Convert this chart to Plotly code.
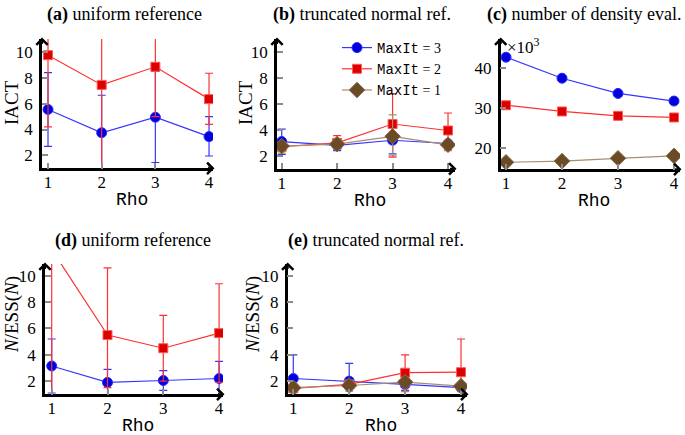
import plotly.graph_objects as go

W, H = 685, 435

rho = [1, 2, 3, 4]
labels = ["MaxIt = 3", "MaxIt = 2", "MaxIt = 1"]

# (a) IACT, uniform reference
iact_unif_3 = [5.55, 3.75, 4.95, 3.45]
iact_unif_3_hi = [8.4, 6.65, 8.5, 5.0]
iact_unif_3_lo = [2.7, 0.5, 1.45, 1.95]
iact_unif_2 = [9.75, 7.45, 8.85, 6.35]
iact_unif_2_hi = [14.0, 14.0, 14.0, 8.35]
iact_unif_2_lo = [4.2, 0.5, 5.0, 4.4]

# (b) IACT, truncated normal reference
iact_tn_3 = [3.1, 2.8, 3.2, 2.95]
iact_tn_3_hi = [4.05, 3.0, 3.4, 3.1]
iact_tn_3_lo = [2.1, 2.4, 2.15, 2.5]
iact_tn_2 = [2.7, 3.0, 4.45, 3.95]
iact_tn_2_hi = [3.0, 3.55, 6.8, 5.3]
iact_tn_2_lo = [2.4, 2.5, 1.9, 2.5]
iact_tn_1 = [2.75, 2.9, 3.5, 2.85]
iact_tn_1_hi = [3.0, 3.1, 5.15, 3.0]
iact_tn_1_lo = [2.2, 2.5, 2.0, 2.4]

# (c) number of density evaluations (x10^3)
evals_3 = [42.75, 37.5, 33.7, 31.8]
evals_2 = [30.75, 29.2, 28.1, 27.7]
evals_1 = [16.5, 16.8, 17.5, 18.1]

# (d) N/ESS(N), uniform reference
ness_unif_3 = [3.15, 1.9, 2.05, 2.2]
ness_unif_3_hi = [5.2, 2.9, 2.8, 3.5]
ness_unif_3_lo = [1.1, 0.5, 1.3, 0.5]
ness_unif_2 = [12.0, 5.5, 4.5, 5.65]
ness_unif_2_hi = [20.0, 10.6, 7.0, 9.4]
ness_unif_2_lo = [0.5, 1.5, 2.0, 1.9]

# (e) N/ESS(N), truncated normal reference
ness_tn_3 = [2.2, 2.0, 1.75, 1.5]
ness_tn_3_hi = [4.0, 3.35, 2.0, 1.7]
ness_tn_3_lo = [1.4, 1.25, 1.3, 1.3]
ness_tn_2 = [1.45, 1.75, 2.64, 2.68]
ness_tn_2_hi = [1.6, 1.9, 4.0, 5.2]
ness_tn_2_lo = [1.3, 1.5, 1.24, 1.5]
ness_tn_1 = [1.5, 1.67, 1.93, 1.62]
ness_tn_1_hi = [1.6, 1.8, 2.1, 1.75]
ness_tn_1_lo = [1.35, 1.5, 1.2, 1.45]

SERIF = "Liberation Serif"
MONO = "Liberation Mono"

styles = {
    "MaxIt = 3": dict(line="#3535ff", fill="#0000dd", edge="#2a2aff", symbol="circle", size=10),
    "MaxIt = 2": dict(line="#ff3030", fill="#dd0000", edge="#ff5a5a", symbol="square", size=9),
    "MaxIt = 1": dict(line="#a88c70", fill="#6b4a26", edge="#8a6a48", symbol="diamond", size=12),
}

# panel geometry in pixels: x domain, y domain (top, bottom), x range, y range
panels = {
    "a": dict(xd=(42, 213), yd=(39, 168.3), xr=(0.888, 4.074), yr=(1, 11)),
    "b": dict(xd=(277, 455), yd=(39, 168.8), xr=(0.915, 4.126), yr=(1, 11)),
    "c": dict(xd=(500.7, 680), yd=(39, 169.3), xr=(0.905, 4.107), yr=(14.75, 47.3)),
    "d": dict(xd=(45, 223), yd=(264, 394.3), xr=(0.88, 4.07), yr=(1, 10.9)),
    "e": dict(xd=(287.7, 467), yd=(264, 394.3), xr=(0.9, 4.107), yr=(1, 10.9)),
}

fig = go.Figure()


def add_series(ax, name, y, hi=None, lo=None, legend=False):
    s = styles[name]
    err = None
    if hi is not None:
        err = dict(
            type="data", symmetric=False,
            array=[h - v for h, v in zip(hi, y)],
            arrayminus=[v - l for l, v in zip(lo, y)],
            color=s["line"], thickness=1.2, width=4,
        )
    fig.add_trace(go.Scatter(
        x=rho, y=y, mode="lines+markers", name=name,
        xaxis="x" + ax, yaxis="y" + ax,
        line=dict(color=s["line"], width=1.2),
        marker=dict(symbol=s["symbol"], size=s["size"], color=s["fill"],
                    line=dict(color=s["edge"], width=1)),
        error_y=err, showlegend=legend,
    ))


add_series("1", "MaxIt = 3", iact_unif_3, iact_unif_3_hi, iact_unif_3_lo)
add_series("1", "MaxIt = 2", iact_unif_2, iact_unif_2_hi, iact_unif_2_lo)

add_series("2", "MaxIt = 3", iact_tn_3, iact_tn_3_hi, iact_tn_3_lo, legend=True)
add_series("2", "MaxIt = 2", iact_tn_2, iact_tn_2_hi, iact_tn_2_lo, legend=True)
add_series("2", "MaxIt = 1", iact_tn_1, iact_tn_1_hi, iact_tn_1_lo, legend=True)

add_series("3", "MaxIt = 3", evals_3)
add_series("3", "MaxIt = 2", evals_2)
add_series("3", "MaxIt = 1", evals_1)

add_series("4", "MaxIt = 3", ness_unif_3, ness_unif_3_hi, ness_unif_3_lo)
add_series("4", "MaxIt = 2", ness_unif_2, ness_unif_2_hi, ness_unif_2_lo)

add_series("5", "MaxIt = 3", ness_tn_3, ness_tn_3_hi, ness_tn_3_lo)
add_series("5", "MaxIt = 2", ness_tn_2, ness_tn_2_hi, ness_tn_2_lo)
add_series("5", "MaxIt = 1", ness_tn_1, ness_tn_1_hi, ness_tn_1_lo)

layout = dict(
    width=W, height=H,
    margin=dict(l=0, r=0, t=0, b=0),
    paper_bgcolor="white", plot_bgcolor="white",
    font=dict(family=SERIF, size=16, color="black"),
    showlegend=True,
    legend=dict(
        x=337 / W, y=1 - 32 / H, xanchor="left", yanchor="top",
        bgcolor="rgba(0,0,0,0)", font=dict(family=SERIF, size=14),
        tracegroupgap=0, itemwidth=30,
    ),
)

annotations = []
for i, (key, p) in enumerate(panels.items(), start=1):
    sfx = "" if i == 1 else str(i)
    x0, x1 = p["xd"][0] / W, p["xd"][1] / W
    y_top, y_bot = 1 - p["yd"][0] / H, 1 - p["yd"][1] / H
    common = dict(
        showline=True, linecolor="black", linewidth=2.5, mirror=False,
        showgrid=False, zeroline=False,
        ticks="inside", ticklen=6, tickwidth=2, tickcolor="#8c8c8c",
        tickfont=dict(family=SERIF, size=17),
    )
    layout["xaxis" + sfx] = dict(
        domain=[x0, x1], range=list(p["xr"]), anchor="y" + str(i),
        tickvals=rho, ticklabelstandoff=-3, **common,
    )
    ytick = [20, 30, 40] if key == "c" else [2, 4, 6, 8, 10]
    layout["yaxis" + sfx] = dict(
        domain=[y_bot, y_top], range=list(p["yr"]), anchor="x" + str(i),
        tickvals=ytick, ticklabelstandoff=3, **common,
    )
    # arrow heads at axis ends
    annotations.append(dict(x=x1 + 1.5 / W, y=y_bot, xref="paper", yref="paper", text="",
                            showarrow=True, arrowhead=4, arrowsize=1.1, arrowwidth=2,
                            arrowcolor="black", ax=-8, ay=0))
    annotations.append(dict(x=x0, y=y_top + 1.5 / H, xref="paper", yref="paper", text="",
                            showarrow=True, arrowhead=4, arrowsize=1.1, arrowwidth=2,
                            arrowcolor="black", ax=0, ay=8))
    # x axis label
    annotations.append(dict(
        x=(x0 + x1) / 2 + 4 / W, y=1 - (p["yd"][1] + 32) / H, xref="paper", yref="paper",
        xanchor="center", yanchor="middle",
        text="Rho", showarrow=False, font=dict(family=MONO, size=18),
    ))

titles = [
    ("<b>(a)</b> uniform reference", 124, 15),
    ("<b>(b)</b> truncated normal ref.", 362, 15),
    ("<b>(c)</b> number of density eval.", 584, 15),
    ("<b>(d)</b> uniform reference", 133, 240),
    ("<b>(e)</b> truncated normal ref.", 376, 240),
]
for text, cx, cy in titles:
    annotations.append(dict(x=cx / W, y=1 - cy / H, xref="paper", yref="paper",
                            xanchor="center", yanchor="middle",
                            text=text, showarrow=False, font=dict(family=SERIF, size=18)))

ylabels = [
    ("IACT", 12, 103),
    ("IACT", 246, 103),
    ("<i>N</i>/ESS(<i>N</i>)", 12, 315),
    ("<i>N</i>/ESS(<i>N</i>)", 253, 315),
]
for text, cx, cy in ylabels:
    annotations.append(dict(x=cx / W, y=1 - cy / H, xref="paper", yref="paper",
                            xanchor="center", yanchor="middle",
                            text=text, showarrow=False, textangle=-90,
                            font=dict(family=SERIF, size=19)))

annotations.append(dict(x=505 / W, y=1 - 46 / H, xref="paper", yref="paper",
                        xanchor="left", yanchor="middle", text="×10<sup>3</sup>",
                        showarrow=False, font=dict(family=SERIF, size=17)))

layout["annotations"] = annotations
fig.update_layout(**layout)

# legend entries: monospace "MaxIt"
for tr in fig.data:
    if tr.showlegend:
        tr.name = tr.name.replace("MaxIt", f"<span style='font-family:{MONO}'>MaxIt</span>")

fig.write_html("out.html", config={"displayModeBar": False},
               post_script="document.body.style.margin='0px';")
